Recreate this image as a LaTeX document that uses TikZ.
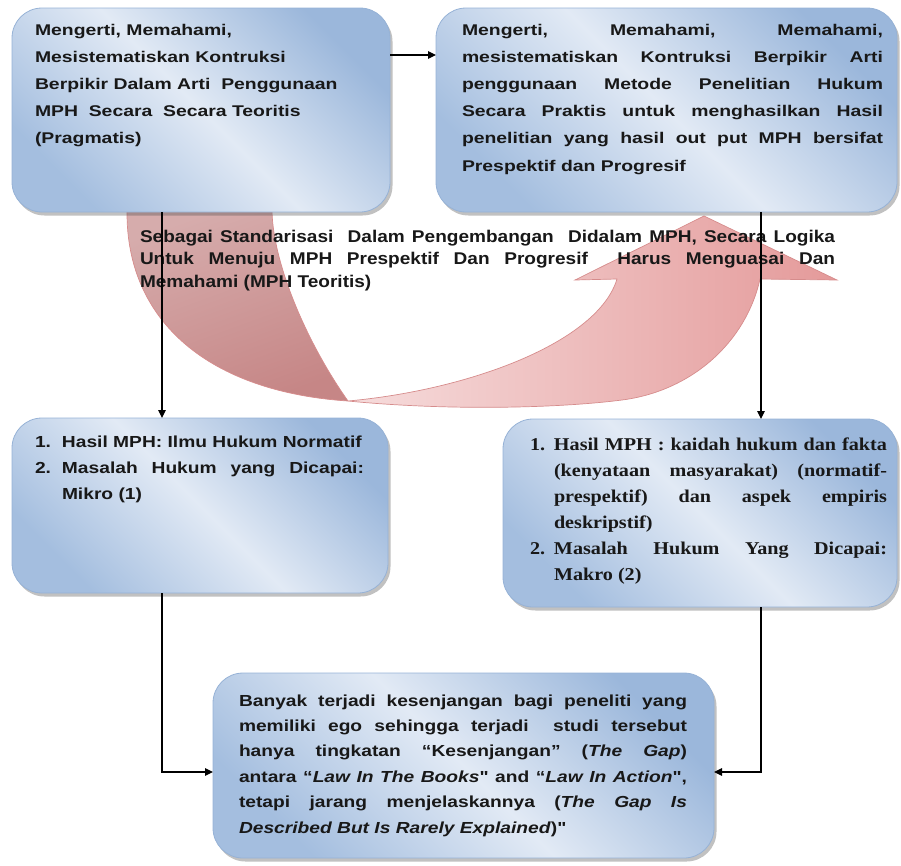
\documentclass[tikz,border=0pt]{standalone}
\usepackage{fontspec}
\usetikzlibrary{arrows.meta,shadows}
\newfontfamily\fA[FakeStretch=1.25]{Liberation Sans}
\newfontfamily\fB[FakeStretch=1.2]{Liberation Sans}
\newfontfamily\fM[FakeStretch=1.12]{Liberation Sans}
\newfontfamily\fS[FakeStretch=1.12]{Liberation Serif}
\definecolor{bxdark}{RGB}{155,183,219}
\definecolor{bxlight}{RGB}{226,234,245}
\definecolor{bxdark2}{RGB}{164,190,223}
\definecolor{bxline}{RGB}{150,178,214}
\definecolor{txt}{RGB}{24,24,24}
\definecolor{lobeA}{RGB}{214,172,172}
\definecolor{lobeB}{RGB}{198,134,134}
\definecolor{lobeC}{RGB}{246,220,220}
\definecolor{lobeD}{RGB}{228,154,154}
\definecolor{lobeline}{RGB}{214,140,140}
\begin{document}
\begin{tikzpicture}[x=1pt,y=-1pt,
  box/.style={draw=bxline, line width=0.8pt, rounded corners=30pt,
    top color=bxdark, bottom color=bxdark2, middle color=bxlight, shading angle=-45,
    drop shadow={shadow xshift=2.5pt, shadow yshift=-3.5pt, opacity=0.35, fill=black!70},
    inner sep=0pt, outer sep=0pt},
  txtnode/.style={anchor=base west, inner sep=0pt, outer sep=0pt, text=txt},
  conn/.style={draw=black, line width=1.1pt, -{Triangle[length=8pt,width=7.5pt]}},
  lobe/.style={draw=lobeline, line width=0.7pt}
]
\useasboundingbox (0,0) rectangle (901,865);

% curved arrow: back (darker) lobe
\shade[lobe, top color=lobeA, bottom color=lobeB, shading angle=20]
  (127,211) -- (272,211)
  .. controls (273,262) and (305,340) .. (348,401)
  .. controls (210,392) and (126,322) .. (127,211) -- cycle;
% curved arrow: front lobe with head
\shade[lobe, left color=lobeC, right color=lobeD]
  (348,401) .. controls (450,411) and (560,408) .. (622,400)
  .. controls (692,391) and (746,342) .. (760,279)
  -- (837,280) -- (704,216) -- (575,280) -- (617,279)
  .. controls (598,342) and (470,390) .. (348,401) -- cycle;

% boxes
\node[box, minimum width=378pt, minimum height=204pt] (b1) at (201,110) {};
\node[box, minimum width=461pt, minimum height=204pt] (b2) at (666.5,110) {};
\node[box, minimum width=376pt, minimum height=175pt] (b3) at (200,505.5) {};
\node[box, minimum width=394pt, minimum height=188pt] (b4) at (700,513) {};
\node[box, minimum width=501pt, minimum height=185pt] (b5) at (463.5,765.5) {};

% texts
\node[txtnode] (t1) at (35,35) {\parbox[t]{345pt}{\fA\bfseries\fontsize{15.5}{27.2}\selectfont\raggedright
Mengerti, Memahami,\\
Mesistematiskan Kontruksi\\
Berpikir Dalam Arti\ \ Penggunaan\\
MPH\ \ Secara\ \ Secara Teoritis\\
(Pragmatis)}};

\node[txtnode] (t2) at (462,35) {\parbox[t]{421pt}{\fA\bfseries\fontsize{15.5}{27.2}\selectfont
Mengerti, Memahami, Memahami,\linebreak
mesistematiskan Kontruksi Berpikir Arti\linebreak
penggunaan Metode Penelitian Hukum\linebreak
Secara Praktis untuk menghasilkan Hasil\linebreak
penelitian yang hasil out put MPH bersifat\linebreak
Prespektif dan Progresif}};

\node[txtnode] (tm) at (140,242) {\parbox[t]{695pt}{\fM\bfseries\fontsize{17}{22.7}\selectfont
Sebagai Standarisasi\ \ Dalam Pengembangan\ \ Didalam MPH, Secara Logika\linebreak
Untuk Menuju MPH Prespektif Dan Progresif\ \ Harus Menguasai Dan\linebreak
Memahami (MPH Teoritis)}};

\node[txtnode] (t3) at (35,447) {\parbox[t]{329pt}{\fB\bfseries\fontsize{16}{26}\selectfont
\hangindent=27pt\hangafter=1\noindent\hbox to 27pt{1.\hfil}Hasil MPH: Ilmu Hukum Normatif\par
\hangindent=27pt\hangafter=1\noindent\hbox to 27pt{2.\hfil}Masalah Hukum yang Dicapai:\linebreak
Mikro (1)}};

\node[txtnode] (t4) at (530,450) {\parbox[t]{357pt}{\fS\bfseries\fontsize{18}{26}\selectfont
\hangindent=24pt\hangafter=1\noindent\hbox to 24pt{1.\hfil}Hasil MPH : kaidah hukum dan fakta\linebreak
(kenyataan masyarakat) (normatif-\linebreak
prespektif) dan aspek empiris\linebreak
deskripstif)\par
\hangindent=24pt\hangafter=1\noindent\hbox to 24pt{2.\hfil}Masalah Hukum Yang Dicapai:\linebreak
Makro (2)}};

\node[txtnode] (t5) at (239,706) {\parbox[t]{448pt}{\fB\bfseries\fontsize{16}{25.4}\selectfont
Banyak terjadi kesenjangan bagi peneliti yang\linebreak
memiliki ego sehingga terjadi\ \ studi tersebut\linebreak
hanya tingkatan “Kesenjangan” (\textit{The Gap})\linebreak
antara “\textit{Law In The Books}" and “\textit{Law In Action}",\linebreak
tetapi jarang menjelaskannya (\textit{The Gap Is}\linebreak
\textit{Described But Is Rarely Explained})"}};

% connectors
\coordinate (h1) at (0,55);
\coordinate (h2) at (0,772);
\coordinate (v1) at (162,0);
\coordinate (v2) at (761,0);
\draw[conn] (b1.east |- h1) -- (b2.west |- h1);
\draw[conn] (b1.south -| v1) -- (b3.north -| v1);
\draw[conn] (b2.south -| v2) -- (b4.north -| v2);
\draw[conn] (b3.south -| v1) |- (b5.west |- h2);
\draw[conn] (b4.south -| v2) |- (b5.east |- h2);
\end{tikzpicture}
\end{document}
